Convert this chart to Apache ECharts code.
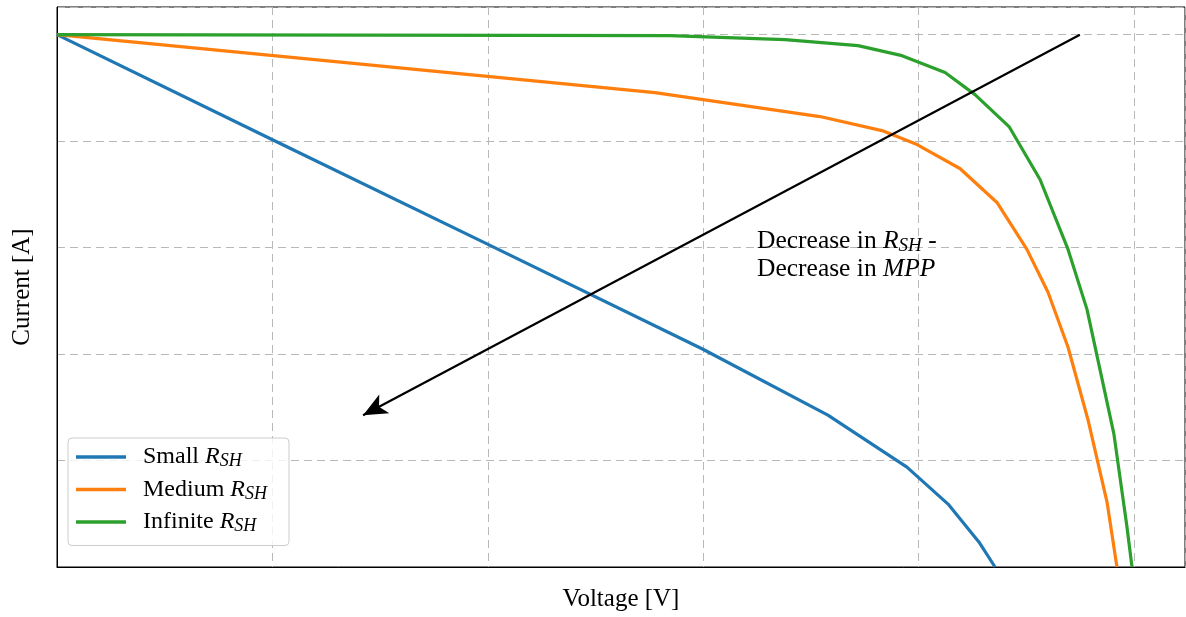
<!DOCTYPE html>
<html><head><meta charset="utf-8">
<script src="https://cdn.jsdelivr.net/npm/echarts@6/dist/echarts.min.js"></script>
<style>html,body{margin:0;padding:0;background:#fff}#c{width:1186px;height:617px}</style>
</head><body><div id="c"></div>
<script>
// I-V curves (Voltage, Current) in arbitrary units
const smallRsh = [[0,5],[0.998,4.015],[2.001,3.03],[2.999,2.045],[3.579,1.426],[3.946,0.938],[4.137,0.591],[4.280,0.235],[4.355,0]];
const mediumRsh = [[0,5],[2.776,4.456],[3.542,4.231],[3.830,4.099],[3.993,3.968],[4.192,3.743],[4.364,3.424],[4.503,2.983],[4.601,2.58],[4.694,2.064],[4.786,1.388],[4.875,0.61],[4.921,0]];
const infiniteRsh = [[0,5],[2.846,4.991],[3.380,4.953],[3.719,4.897],[3.923,4.803],[4.123,4.644],[4.262,4.437],[4.420,4.137],[4.564,3.64],[4.694,2.983],[4.782,2.42],[4.907,1.248],[4.967,0.385],[4.991,0]];
const seriesNames = ['Small', 'Medium', 'Infinite'];
const arrowStart = [4.749, 5.0];
const arrowEnd = [1.421, 1.426];
const notePos = [3.25, 2.93];

const FONT = 'Liberation Serif';
const richLegend = {
  n: {fontFamily: FONT, fontSize: 24, color: '#000'},
  i: {fontFamily: FONT, fontSize: 24, fontStyle: 'italic', color: '#000'},
  s: {fontFamily: FONT, fontSize: 18, fontStyle: 'italic', color: '#000', padding: [9,0,0,0]}
};
const richNote = {
  n: {fontFamily: FONT, fontSize: 25.5, color: '#000'},
  i: {fontFamily: FONT, fontSize: 25.5, fontStyle: 'italic', color: '#000'},
  s: {fontFamily: FONT, fontSize: 19, fontStyle: 'italic', color: '#000', padding: [9,0,0,0]}
};
const colors = ['#1f77b4', '#ff7f0e', '#2ca02c'];
const datasets = [smallRsh, mediumRsh, infiniteRsh];

const series = datasets.map((d, k) => ({
  name: seriesNames[k], type: 'line', data: d, symbol: 'none',
  lineStyle: {width: 3.2, color: colors[k]}, itemStyle: {color: colors[k]}, z: 3
}));
series.push({
  type: 'line', data: [], silent: true,
  markLine: {
    silent: true, symbol: ['none', 'arrow'], symbolSize: [16, 24],
    lineStyle: {color: '#000', width: 2.2, type: 'solid'}, label: {show: false},
    data: [[{coord: arrowStart}, {coord: arrowEnd}]]
  },
  markPoint: {
    silent: true, symbol: 'circle', symbolSize: 0,
    data: [{coord: notePos}],
    label: {show: true, position: 'right', distance: 0, align: 'left', verticalAlign: 'middle',
      lineHeight: 28, rich: richNote,
      formatter: '{n|Decrease in }{i|R}{s|SH}{n| -}\n{n|Decrease in }{i|MPP}'}
  }
});

const chart = echarts.init(document.getElementById('c'), null, {renderer: 'canvas'});
chart.setOption({
  animation: false,
  backgroundColor: '#fff',
  grid: {left: 57, right: 1, top: 7, bottom: 49, show: true, borderColor: '#000', borderWidth: 1, containLabel: false},
  legend: {
    orient: 'vertical', left: 68, top: 438,
    icon: 'rect', itemWidth: 50, itemHeight: 3.5, itemGap: 7,
    padding: [7, 22, 10, 8],
    borderColor: '#cccccc', borderWidth: 1, borderRadius: 4, backgroundColor: 'rgba(255,255,255,0.8)',
    data: seriesNames,
    formatter: name => '{n|' + name + ' }{i|R}{s|SH}',
    textStyle: {padding: [0,0,0,12], rich: richLegend}
  },
  xAxis: {
    type: 'value', min: 0, max: 5.237, interval: 1,
    name: 'Voltage [V]', nameLocation: 'middle', nameGap: 20,
    nameTextStyle: {fontFamily: FONT, fontSize: 25, color: '#000'},
    axisLine: {show: true, lineStyle: {color: '#000'}}, axisTick: {show: false}, axisLabel: {show: false},
    splitLine: {show: true, lineStyle: {color: '#b8b8b8', type: [8, 5], width: 1}}
  },
  yAxis: {
    type: 'value', min: 0, max: 5.26, interval: 1,
    name: 'Current [A]', nameLocation: 'middle', nameGap: 22,
    nameTextStyle: {fontFamily: FONT, fontSize: 25, color: '#000'},
    axisLine: {show: true, lineStyle: {color: '#000'}}, axisTick: {show: false}, axisLabel: {show: false},
    splitLine: {show: true, lineStyle: {color: '#b8b8b8', type: [8, 5], width: 1}}
  },
  series: series
});
</script></body></html>
